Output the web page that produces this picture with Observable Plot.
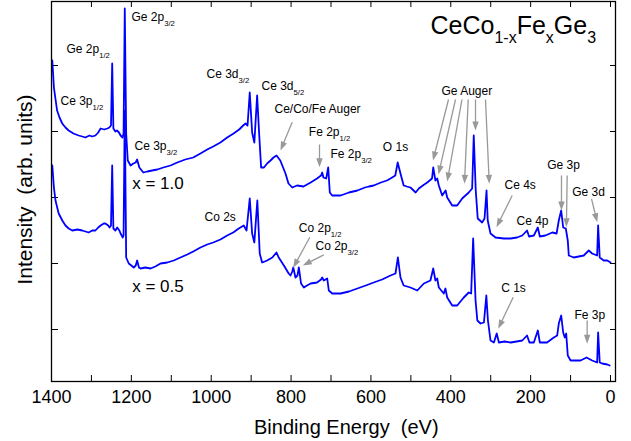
<!DOCTYPE html>
<html><head><meta charset="utf-8">
<script src="https://cdn.jsdelivr.net/npm/d3@7"></script>
<script src="https://cdn.jsdelivr.net/npm/@observablehq/plot@0.6"></script>
<style>
body{margin:0;background:#fff;}
#chart{width:631px;height:441px;overflow:hidden;}
</style></head><body><div id="chart"></div>
<script>
// ---- Spectrum x = 1.0 (binding energy eV, intensity arb. units)
const topE = [1398,1394,1386,1380,1373,1365,1357,1345,1332,1323,1315,1305,1298,1290,1283,1277,1268,1260,1255,1251,1248,1245,1240,1236,1231,1227,1222,1219.5,1216.5,1213,1209,1202,1195,1189,1185.5,1180,1170,1160,1148,1135,1120,1102,1085,1065,1045,1027,1010,995,977,960,944,930,920,914,909,903.5,897.5,892,885,880,875,868,860,851.5,844,836.5,827,814,806.5,797,785,769,760,751,735,725,722,719,712,707,703,697,676,655,634,615,605,593,575,560,551,539,533,526,518,510,501,488,480,470,459,447,444,438.5,434,430,421.5,413,409,396.5,384,371.5,355,346.5,342.5,337.5,332.5,321.5,315.5,310.5,307.5,300.5,288,267,250,234,221,209,204,192,182,177,163,146,135,129.5,123.5,118.5,112,107,104.5,92,67,54.5,46,33.5,31,27,17,8,0];
const topI = [335,308,285,278,272,268,265,262,260,259,258,260,259,260,263,267,266,267,268,270,332,267,264,265,263,260,258,262,387,262,235,230,232,233,236,228,223,224,225,226,228,230,233,236,238,242,246,249,253,258,262,266,270,272,270,303,263,253,300,262,228,228,232,235,238,240,235,222,212,208,210,209,211,213,217,220,223,218,217,228,203,200,200,203,205,208,209,210,213,215,217,220,233,222,210,209,208,203,207,210,213,217,228,215,217,210,200,205,198,190,190,197,203,207,260,205,177,173,177,205,175,162,158,157,157,158,160,165,159,160,168,159,160,163,162,175,185,168,167,155,140,138,140,145,142,140,170,138,135,135,133];
// ---- Spectrum x = 0.5
const botE = [1398,1394,1390,1382,1373,1365,1357,1348,1335,1323,1315,1307,1298,1290,1283,1277,1269,1265,1258,1254.5,1251,1248,1245,1240,1235.5,1230,1227,1221.5,1219.5,1216.5,1213,1206.5,1200,1194,1189,1185.5,1181,1177,1165,1152,1140,1127,1110,1094,1077,1060,1045,1027,1010,995,977,960,945,931,918.5,911.5,903.5,897.5,892,884.5,878.5,872.5,866,860,847,836.5,831,818,806,801.5,797,794.5,789,784,780.5,775,768,760,751,735,725,722,718,709.5,705.5,697,676,655,634,613,593,572,551,538.5,532.5,526,518,501,484,467.5,451,444,438.5,434,430,417.5,413.5,409,396.5,384,367.5,355,349,344,338,333.5,325.5,317,311,307,300.5,292,285,279.5,265,250,235,221,209,203,192,182,177,159,142,133.5,129.5,123.5,118.5,114.5,111,107,100,75,60,46,33.5,31,27,21,8,2];
const botI = [230,208,195,182,175,170,167,165,166,165,164,163,165,165,168,170,172,172,170,168,170,230,167,165,168,165,162,158,160,285,138,132,130,128,130,135,128,127,128,127,129,132,133,135,138,141,144,148,151,153,156,160,163,167,170,165,197,162,153,195,142,133,134,135,138,143,138,130,122,120,124,128,118,120,128,112,108,110,112,113,116,118,115,117,105,102,102,104,107,110,113,116,120,122,138,118,110,108,105,112,115,127,115,117,108,102,107,98,90,90,98,103,102,157,95,75,72,73,100,75,55,53,62,53,54,53,54,55,60,53,53,65,53,53,58,60,72,80,63,58,62,40,35,35,38,35,33,63,33,32,31,30];

// ---- Axes
const xTickLabels = [1400,1200,1000,800,600,400,200,0];
const xTickMarks = [1400,1300,1200,1100,1000,900,800,700,600,500,400,300,200,100,0];
const yTickMarks = [66,132,198,264,330];

// ---- Annotations (label text, energy, intensity)
const peakText = ["Ge 2p_{3/2}","Ge 2p_{1/2}","Ce 3p_{1/2}","Ce 3p_{3/2}","Ce 3d_{3/2}","Ce 3d_{5/2}","Ce/Co/Fe Auger","Fe 2p_{1/2}","Fe 2p_{3/2}","O 1s","Ge Auger","Ce 4s","Ce 4p","Ge 3p","Ge 3d","Co 2s","Co 2p_{1/2}","Co 2p_{3/2}","C 1s","Fe 3p"];
const peakE = [1199.6,1362.4,1377.5,1192.1,1011.8,874.1,841.5,755.6,701.3,570.3,423.3,265.5,235.4,158.6,96.0,1016.8,780.7,738.8,273.8,90.2];
const peakI = [378,346,294,249,321,309,286,263,241,248,304,210,174,230,203,178,167,149,107,80];
const sampleText = ["x = 1.0","x = 0.5"];
const sampleE = [1197.9,1197.9];
const sampleI = [212,109];
const titleText = ["CeCo_{1-x}Fe_{x}Ge_{3}"];
const titleE = [450.8];
const titleI = [369.7];

// ---- Arrows (from E1,I1 to E2,I2)
const arrE1 = [797.2,728.8,405.7,388.2,372.0,356.4,338.1,313.1,246.2,122.8,108.5,47.6,753.1,718.1,243.7,58.5];
const arrI1 = [273.3,251,296,296,296,296,296,296,200,220,220,196.7,158.3,140.7,98.3,75];
const arrE2 = [826.5,728.8,444.6,430.8,409.0,365.7,338.1,303.6,285.5,122.8,110.5,33.3,794.7,770.6,281.3,58.5];
const arrI2 = [245,228.3,235,221,214,211.7,265,211.7,168.3,185,168.3,173.3,127.7,130,66.7,51.7];

const W = 631, H = 441, ml = 51, mr = 16, mt = 1, mb = 60;
const xDom = [1400, -12.5], yDom = [14, 394];
const kx = (W - ml - mr) / (xDom[0] - xDom[1]);
const ky = (H - mt - mb) / (yDom[1] - yDom[0]);

const topData = topE.map((e, i) => ({E: e, I: topI[i]}));
const botData = botE.map((e, i) => ({E: e, I: botI[i]}));
const peaks = peakText.map((t, i) => ({t, E: peakE[i], I: peakI[i]}));
const samples = sampleText.map((t, i) => ({t, E: sampleE[i], I: sampleI[i]}));
const titles = titleText.map((t, i) => ({t, E: titleE[i], I: titleI[i]}));

// arrow shafts and filled heads
const headLen = 9, headHalf = 3.2;
const shafts = [], heads = [];
arrE1.forEach((e1, i) => {
  const e2 = arrE2[i], i1 = arrI1[i], i2 = arrI2[i];
  const dx = -(e2 - e1) * kx, dy = -(i2 - i1) * ky;
  const len = Math.hypot(dx, dy), ux = dx / len, uy = dy / len;
  const toE = ox => -ox / kx, toI = oy => -oy / ky;
  const bx = -headLen * ux, by = -headLen * uy;
  const px = -uy * headHalf, py = ux * headHalf;
  shafts.push({E1: e1, I1: i1, E2: e2 + toE(bx + ux * 1), I2: i2 + toI(by + uy * 1)});
  heads.push({id: i, E: e2, I: i2});
  heads.push({id: i, E: e2 + toE(bx + px), I: i2 + toI(by + py)});
  heads.push({id: i, E: e2 + toE(bx - px), I: i2 + toI(by - py)});
  heads.push({id: i, E: e2, I: i2});
});

const font = "'Liberation Sans', Arial, Helvetica, sans-serif";
const blue = "#0000ff", grey = "#999999";

const chart = Plot.plot({
  width: W, height: H,
  marginLeft: ml, marginRight: mr, marginTop: mt, marginBottom: mb,
  style: {fontFamily: font, background: "white", color: "black", overflow: "visible"},
  x: {domain: xDom},
  y: {domain: yDom},
  marks: [
    Plot.axisX(xTickMarks, {anchor: "bottom", tickSize: -6, tickFormat: () => "", label: null}),
    Plot.axisX(xTickMarks, {anchor: "top", tickSize: -5, tickFormat: () => "", label: null}),
    Plot.axisX(xTickLabels, {anchor: "bottom", tickSize: 0, tickPadding: 9, fontSize: 18, tickFormat: d => String(d), label: null}),
    Plot.axisY(yTickMarks, {anchor: "left", tickSize: -7, tickFormat: () => "", label: null}),
    Plot.axisY(yTickMarks, {anchor: "right", tickSize: -6, tickFormat: () => "", label: null}),
    Plot.line(topData, {x: "E", y: "I", stroke: blue, strokeWidth: 1.8}),
    Plot.line(botData, {x: "E", y: "I", stroke: blue, strokeWidth: 1.8}),
    Plot.link(shafts, {x1: "E1", y1: "I1", x2: "E2", y2: "I2", stroke: grey, strokeWidth: 1.3, strokeLinecap: "butt"}),
    Plot.line(heads, {x: "E", y: "I", z: "id", fill: grey, stroke: "none"}),
    Plot.text(peaks, {x: "E", y: "I", text: "t", textAnchor: "start", fontSize: 12, fill: "black"}),
    Plot.text(samples, {x: "E", y: "I", text: "t", textAnchor: "start", fontSize: 17, fill: "black"}),
    Plot.text(titles, {x: "E", y: "I", text: "t", textAnchor: "start", fontSize: 25, fill: "black"}),
    Plot.text(["Binding Energy\u00a0\u00a0(eV)"], {text: d => d, frameAnchor: "bottom", lineAnchor: "middle", textAnchor: "middle", dy: 45.6, dx: 12.8, fontSize: 20, fill: "black"}),
    Plot.text(["Intensity\u00a0\u00a0(arb. units)"], {text: d => d, frameAnchor: "left", lineAnchor: "middle", textAnchor: "middle", dx: -26, dy: -2, rotate: -90, fontSize: 21, fill: "black"}),
    Plot.frame({stroke: "black", strokeWidth: 1.3})
  ]
});

// subscripts: "_{...}" -> smaller, lowered tspan
const NS = "http://www.w3.org/2000/svg";
chart.querySelectorAll("text").forEach(t => {
  const s = t.textContent;
  if (!s.includes("_{")) return;
  let f = parseFloat(t.getAttribute("font-size") || (t.parentNode && t.parentNode.getAttribute("font-size")) || 12);
  const parts = s.split(/(_\{[^}]*\})/).filter(p => p);
  while (t.firstChild) t.removeChild(t.firstChild);
  let lowered = false;
  const shift = 0.36 * f;
  for (const p of parts) {
    const ts = document.createElementNS(NS, "tspan");
    if (p.startsWith("_{")) {
      ts.textContent = p.slice(2, -1);
      ts.setAttribute("font-size", (0.64 * f).toFixed(2));
      if (!lowered) { ts.setAttribute("dy", shift.toFixed(2)); lowered = true; }
    } else {
      ts.textContent = p;
      if (lowered) { ts.setAttribute("dy", (-shift).toFixed(2)); lowered = false; }
    }
    t.appendChild(ts);
  }
});

document.getElementById("chart").appendChild(chart);
</script>
</body></html>
